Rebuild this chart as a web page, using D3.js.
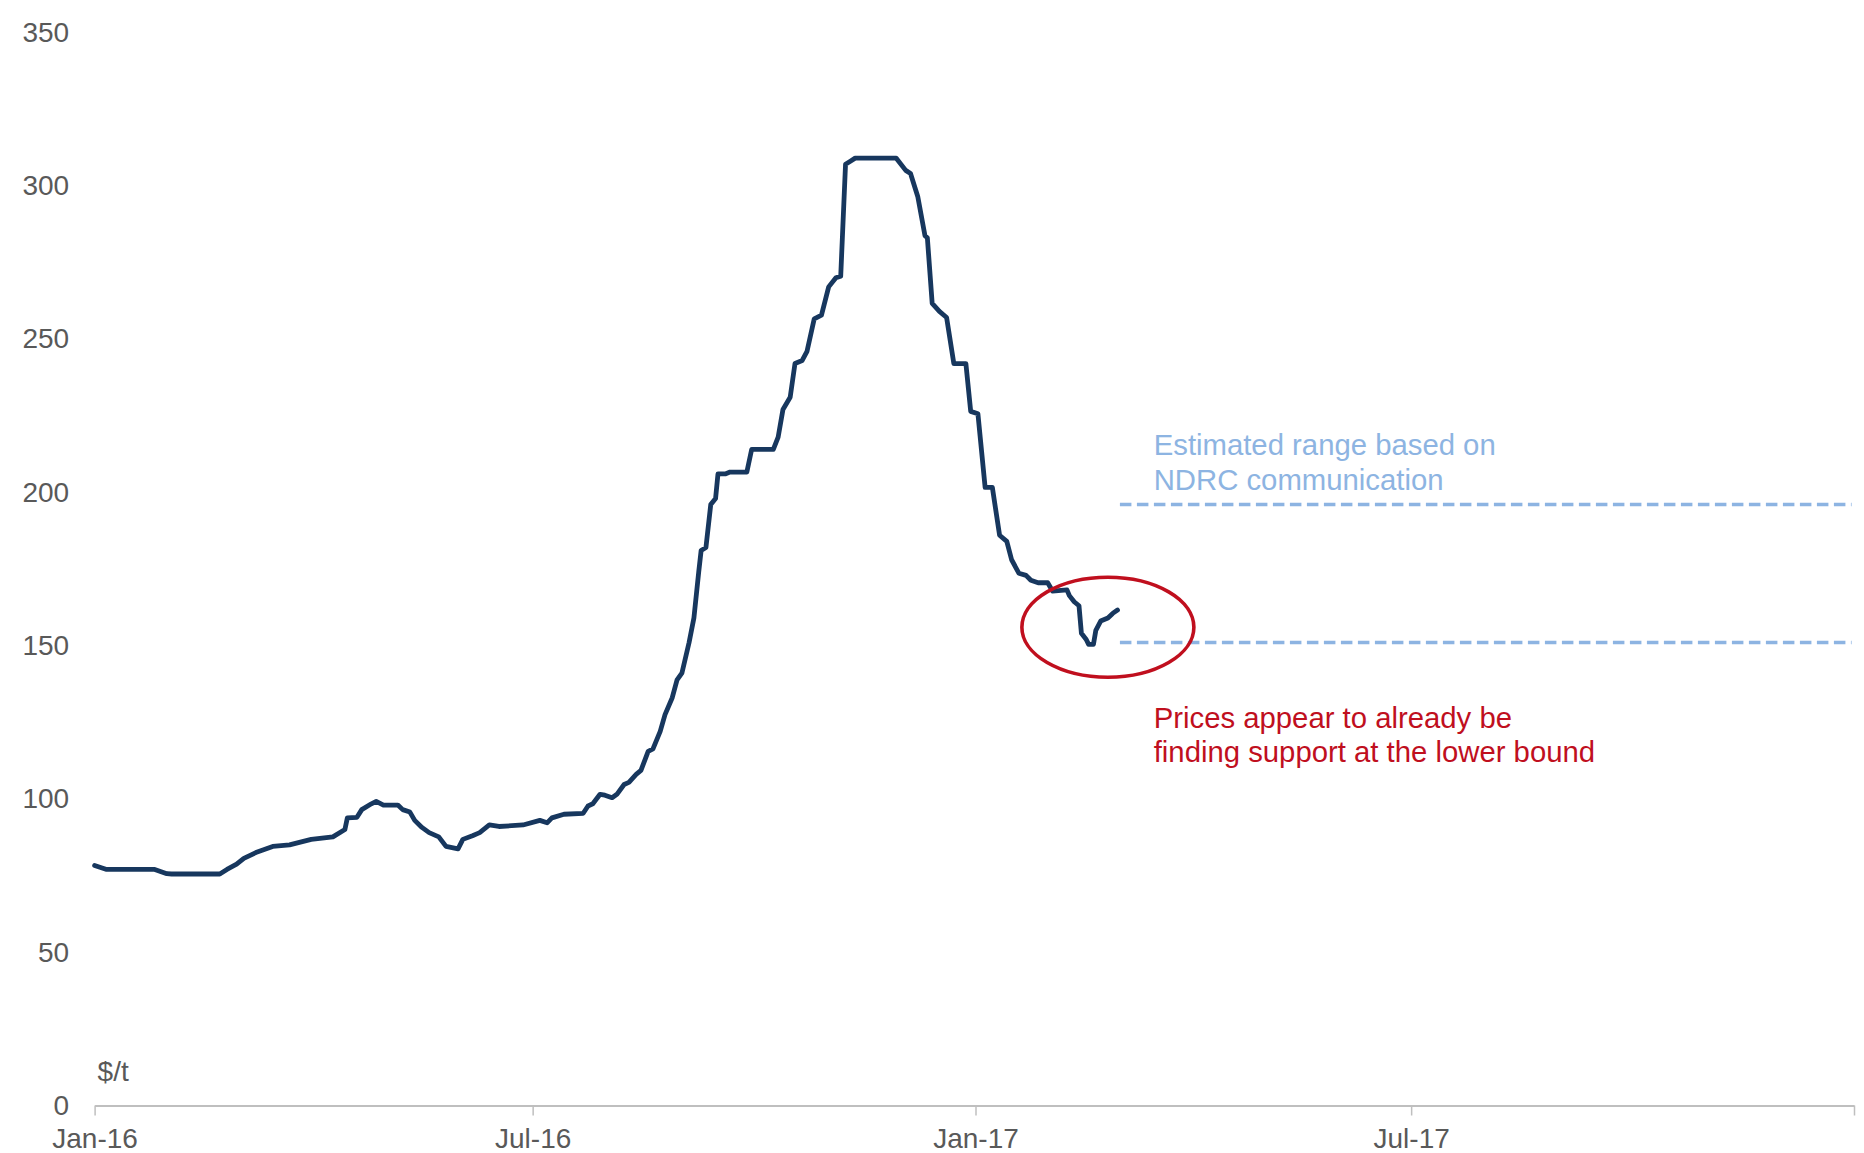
<!DOCTYPE html>
<html>
<head>
<meta charset="utf-8">
<script src="https://cdn.jsdelivr.net/npm/d3@7"></script>
<style>
  html, body { margin: 0; padding: 0; background: #ffffff; }
  svg { display: block; font-family: "Liberation Sans", Arial, sans-serif; }
</style>
</head>
<body>
<svg id="chart" width="1864" height="1153"></svg>
<script>
// ---- Data ----
const dates = ["2016-01-01","2016-01-06","2016-01-11","2016-01-26","2016-01-31","2016-02-02","2016-02-22","2016-02-25","2016-02-29","2016-03-03","2016-03-08","2016-03-15","2016-03-22","2016-03-31","2016-04-09","2016-04-14","2016-04-15","2016-04-19","2016-04-21","2016-04-25","2016-04-27","2016-04-30","2016-05-06","2016-05-08","2016-05-11","2016-05-13","2016-05-16","2016-05-19","2016-05-23","2016-05-26","2016-05-31","2016-06-02","2016-06-06","2016-06-09","2016-06-13","2016-06-17","2016-06-27","2016-07-04","2016-07-07","2016-07-09","2016-07-14","2016-07-22","2016-07-24","2016-07-26","2016-07-29","2016-07-31","2016-08-03","2016-08-05","2016-08-08","2016-08-10","2016-08-13","2016-08-15","2016-08-18","2016-08-20","2016-08-23","2016-08-25","2016-08-28","2016-08-30","2016-09-01","2016-09-04","2016-09-06","2016-09-08","2016-09-09","2016-09-11","2016-09-13","2016-09-15","2016-09-16","2016-09-19","2016-09-21","2016-09-28","2016-09-30","2016-10-09","2016-10-11","2016-10-13","2016-10-16","2016-10-18","2016-10-21","2016-10-23","2016-10-26","2016-10-29","2016-11-01","2016-11-04","2016-11-06","2016-11-08","2016-11-10","2016-11-12","2016-11-29","2016-12-03","2016-12-05","2016-12-08","2016-12-11","2016-12-12","2016-12-14","2016-12-17","2016-12-20","2016-12-23","2016-12-28","2016-12-30","2017-01-02","2017-01-05","2017-01-08","2017-01-11","2017-01-14","2017-01-16","2017-01-19","2017-01-22","2017-01-24","2017-01-27","2017-01-31","2017-02-02","2017-02-08","2017-02-09","2017-02-11","2017-02-13","2017-02-14","2017-02-16","2017-02-17","2017-02-19","2017-02-20","2017-02-22","2017-02-25","2017-02-27","2017-03-01"];
const prices = [78.3,77,77,77,75.6,75.5,75.5,77,78.7,80.6,82.5,84.5,85,86.8,87.6,90,93.8,94,96.5,98.4,99.2,98,98,96.5,95.7,93,90.7,89,87.6,84.5,83.7,86.8,88,89,91.5,91,91.5,93,92.2,93.8,95,95.3,97.7,98.4,101.5,101.2,100.4,101.5,104.7,105.4,108,109.3,115.5,116.3,122,127.5,133,138.8,141,151,159,174,181,182,196,198,206,206,206.6,206.6,214,214,218,227,231,242,243,246,256.6,257.8,267,270,270.5,307,308,309,309,305,304,296.5,283.7,283,261.6,259,257,242,242,226.4,225.6,201.6,201.6,186,184,178,173.6,172.9,171.3,170.5,170.5,167.8,168.2,166.3,164.3,163,154,152,150.4,150.4,155,158,159,160.5,161.6];

const yTicks = [0, 50, 100, 150, 200, 250, 300, 350];
const xTickDates = ["2016-01-01","2016-07-01","2017-01-01","2017-07-01","2018-01-01"];
const xTickLabels = ["Jan-16","Jul-16","Jan-17","Jul-17",""];

const rangeBounds = [151, 196];
const rangeSpan = ["2017-03-02","2017-12-31"];
const circleCenter = {date: "2017-02-25", value: 156};

const annotationRange = ["Estimated range based on", "NDRC communication"];
const annotationPrice = ["Prices appear to already be", "finding support at the lower bound"];
const unitLabel = "$/t";

// ---- Setup ----
const parse = d3.timeParse("%Y-%m-%d");
const svg = d3.select("#chart");
const W = 1864, H = 1153;
const margin = {left: 94.6, right: 10, top: 32.4, bottom: 47.5};

const x = d3.scaleTime()
  .domain([parse("2016-01-01"), parse("2018-01-01")])
  .range([margin.left, W - margin.right]);
const y = d3.scaleLinear()
  .domain([0, 350])
  .range([H - margin.bottom, margin.top]);

const textColor = "#595959";
const fontSize = 28;
const annFontSize = 29.3;

// Y axis labels (no axis line)
const yAxis = d3.axisLeft(y).tickValues(yTicks).tickSize(0).tickPadding(0);
const gy = svg.append("g").attr("transform", `translate(${margin.left - 25.5},0)`).call(yAxis);
gy.select(".domain").remove();
gy.selectAll("text")
  .attr("fill", textColor)
  .style("font-size", fontSize + "px")
  .style("font-family", "'Liberation Sans', Arial, sans-serif");

// X axis
const xAxis = d3.axisBottom(x)
  .tickValues(xTickDates.map(parse))
  .tickFormat((d, i) => xTickLabels[i])
  .tickSize(10)
  .tickSizeOuter(0)
  .tickPadding(13);
const gx = svg.append("g").attr("transform", `translate(0,${y(0)})`).call(xAxis);
gx.select(".domain").attr("stroke", "#BFBFBF").attr("stroke-width", 2);
gx.selectAll(".tick line").attr("stroke", "#BFBFBF").attr("stroke-width", 1.5);
gx.selectAll("text")
  .attr("fill", textColor)
  .style("font-size", fontSize + "px")
  .style("font-family", "'Liberation Sans', Arial, sans-serif");

// unit label
svg.append("text")
  .attr("x", margin.left + 3)
  .attr("y", y(0) - 25)
  .attr("fill", textColor)
  .style("font-size", fontSize + "px")
  .text(unitLabel);

// Range dashed lines
const rangeColor = "#8DB4E2";
svg.selectAll("line.range")
  .data(rangeBounds)
  .join("line")
  .attr("class", "range")
  .attr("x1", x(parse(rangeSpan[0])))
  .attr("x2", x(parse(rangeSpan[1])))
  .attr("y1", d => y(d))
  .attr("y2", d => y(d))
  .attr("stroke", rangeColor)
  .attr("stroke-width", 3.4)
  .attr("stroke-dasharray", "11.5,5.5");

// Price line
const series = dates.map((d, i) => ({date: parse(d), value: prices[i]}));
const line = d3.line().x(d => x(d.date)).y(d => y(d.value));
svg.append("path")
  .datum(series)
  .attr("d", line)
  .attr("fill", "none")
  .attr("stroke", "#17375E")
  .attr("stroke-width", 4.8)
  .attr("stroke-linejoin", "round")
  .attr("stroke-linecap", "round");

// Ellipse
const red = "#C00F1E";
svg.append("ellipse")
  .attr("cx", x(parse(circleCenter.date)))
  .attr("cy", y(circleCenter.value))
  .attr("rx", 86)
  .attr("ry", 50)
  .attr("fill", "none")
  .attr("stroke", red)
  .attr("stroke-width", 3.6);

// Annotations
const annX = x(parse("2017-03-15")) + 2.5;
svg.append("text")
  .attr("fill", rangeColor)
  .style("font-size", annFontSize + "px")
  .selectAll("tspan")
  .data(annotationRange)
  .join("tspan")
  .attr("x", annX)
  .attr("y", (d, i) => y(196) - 49.5 + i * 34.5)
  .text(d => d);

svg.append("text")
  .attr("fill", red)
  .style("font-size", annFontSize + "px")
  .selectAll("tspan")
  .data(annotationPrice)
  .join("tspan")
  .attr("x", annX)
  .attr("y", (d, i) => y(151) + 85 + i * 34.5)
  .text(d => d);
</script>
</body>
</html>
